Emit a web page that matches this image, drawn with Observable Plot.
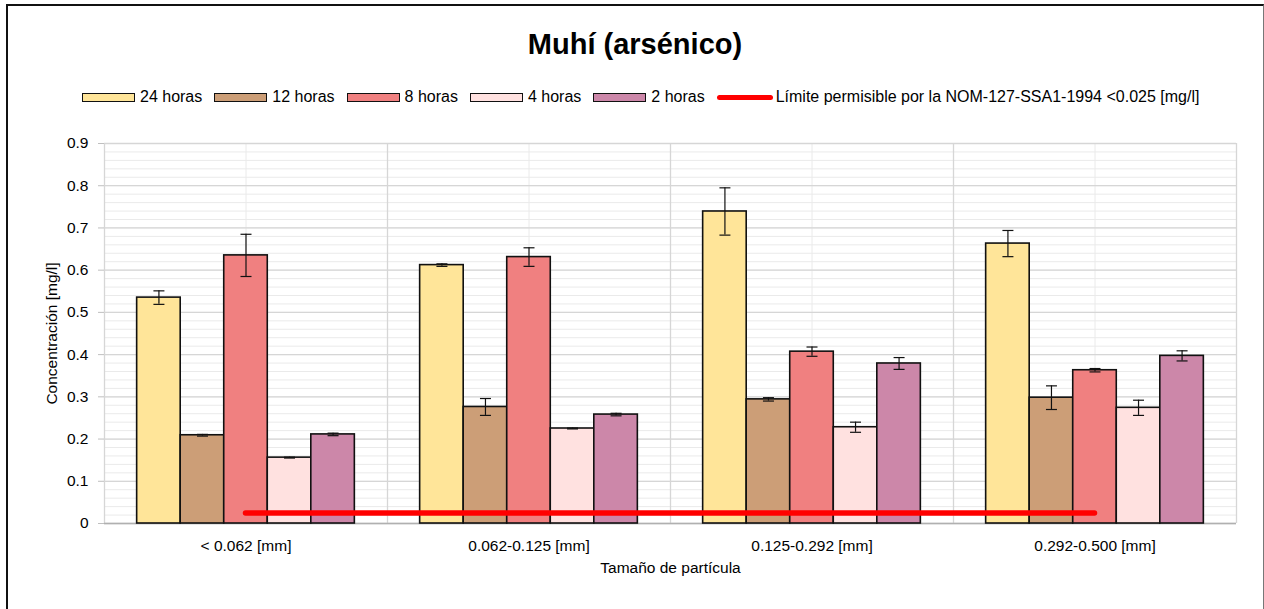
<!DOCTYPE html>
<html>
<head>
<meta charset="utf-8">
<script src="https://cdn.jsdelivr.net/npm/d3@7"></script>
<script src="https://cdn.jsdelivr.net/npm/@observablehq/plot@0.6"></script>
<style>
  html, body { margin: 0; padding: 0; background: #fff; overflow: hidden; }
  body { font-family: "Liberation Sans", Arial, sans-serif; color: #000; }
  #wrap { position: relative; width: 1264px; height: 609px; overflow: hidden; }
  #border { position: absolute; left: 6px; top: 4px; width: 1258px; height: 700px;
            border-left: 2px solid #111; border-top: 2px solid #111; border-right: 1px solid #777; box-sizing: border-box; }
  #title { position: absolute; left: 7px; width: 1256px; top: 28px; line-height: 32px; text-align: center;
           font-weight: bold; font-size: 29px; }
  #legend { position: absolute; top: 87px; left: 82px; height: 20px; display: flex; align-items: center;
            font-size: 16px; white-space: nowrap; }
  .item { display: flex; align-items: center; margin-right: 12px; }
  .sw { width: 53px; height: 9px; box-sizing: border-box; border: 1.5px solid #111; margin-right: 5px; }
  .ln { width: 56px; height: 5px; border-radius: 3px; background: #ff0000; margin-right: 3px; }
  #chart { position: absolute; top: 120px; left: 0; }
</style>
</head>
<body>
<div id="wrap">
  <div id="border"></div>
  <div id="title">Muhí (arsénico)</div>
  <div id="legend"></div>
  <div id="chart"></div>
</div>
<script>
// ---- data ----
const categories = ["< 0.062 [mm]", "0.062-0.125 [mm]", "0.125-0.292 [mm]", "0.292-0.500 [mm]"];
const seriesNames = ["24 horas", "12 horas", "8 horas", "4 horas", "2 horas"];
const seriesColors = ["#FFE599", "#CC9E77", "#F08080", "#FFE1E0", "#CC87A9"];

const h24 = [0.535, 0.612, 0.739, 0.663];
const h12 = [0.209, 0.276, 0.294, 0.298];
const h8  = [0.635, 0.631, 0.407, 0.363];
const h4  = [0.156, 0.225, 0.228, 0.274];
const h2  = [0.211, 0.258, 0.379, 0.397];

const e24 = [0.016, 0.003, 0.056, 0.031];
const e12 = [0.002, 0.020, 0.004, 0.028];
const e8  = [0.050, 0.022, 0.011, 0.004];
const e4  = [0.001, 0.001, 0.012, 0.018];
const e2  = [0.003, 0.003, 0.014, 0.012];

const limitValue = 0.025;
const limitLabel = "Límite permisible por la NOM-127-SSA1-1994 <0.025 [mg/l]";
const yTicks = [0, 0.1, 0.2, 0.3, 0.4, 0.5, 0.6, 0.7, 0.8, 0.9];
const xTitle = "Tamaño de partícula";
const yTitle = "Concentración [mg/l]";

// ---- layout helpers (Excel-style clustered bars, gap width 150%) ----
const values = [h24, h12, h8, h4, h2];
const errors = [e24, e12, e8, e4, e2];
const gap = 1.5;
const nS = seriesNames.length;
const rows = categories.flatMap((c, i) => seriesNames.map((s, j) => ({
  cat: c, series: s, v: values[j][i], e: errors[j][i],
  x1: i + (gap / 2 + j) / (nS + gap),
  x2: i + (gap / 2 + j + 1) / (nS + gap),
  xc: i + (gap / 2 + j + 0.5) / (nS + gap)
})));
const caps = rows.flatMap(d => [{xc: d.xc, y: d.v - d.e}, {xc: d.xc, y: d.v + d.e}]);

const catCenters = categories.map((c, i) => i + 0.5);
const catEdges = d3.range(0, categories.length + 1);
const yMinor = d3.range(0, 0.9001, 0.02);

const capSymbol = {
  draw(ctx, size) {
    const w = Math.sqrt(size / Math.PI);
    ctx.moveTo(-w, 0);
    ctx.lineTo(w, 0);
  }
};

// ---- legend ----
const legend = document.getElementById("legend");
seriesNames.forEach((s, j) => {
  const it = document.createElement("div");
  it.className = "item";
  const sw = document.createElement("div");
  sw.className = "sw";
  sw.style.background = seriesColors[j];
  const t = document.createElement("span");
  t.textContent = s;
  it.appendChild(sw); it.appendChild(t);
  legend.appendChild(it);
});
{
  const it = document.createElement("div");
  it.className = "item";
  const ln = document.createElement("div");
  ln.className = "ln";
  const t = document.createElement("span");
  t.textContent = limitLabel;
  it.appendChild(ln); it.appendChild(t);
  legend.appendChild(it);
}

// ---- chart ----
const chart = Plot.plot({
  width: 1264,
  height: 489,
  marginTop: 23,
  marginBottom: 86,
  marginLeft: 104,
  marginRight: 28,
  style: { fontFamily: "Liberation Sans, Arial, sans-serif", fontSize: "15px", color: "#000", background: "transparent" },
  x: { type: "linear", domain: [0, categories.length] },
  y: { domain: [0, 0.9] },
  color: { domain: seriesNames, range: seriesColors },
  marks: [
    Plot.ruleY(yMinor, { stroke: "#eaeaea", strokeWidth: 1 }),
    Plot.ruleX(catCenters, { stroke: "#eaeaea", strokeWidth: 1 }),
    Plot.ruleY(yTicks, { stroke: "#d6d6d6", strokeWidth: 1.3 }),
    Plot.ruleX(catEdges, { stroke: "#d6d6d6", strokeWidth: 1.3 }),
    Plot.ruleY([0], { stroke: "#b0b0b0", strokeWidth: 1.3 }),
    Plot.rectY(rows, { x1: "x1", x2: "x2", y1: 0, y2: "v", fill: "series", stroke: "#111", strokeWidth: 1.6 }),
    Plot.ruleX(rows, { x: "xc", y1: d => d.v - d.e, y2: d => d.v + d.e, stroke: "#111", strokeWidth: 1.2 }),
    Plot.dot(caps, { x: "xc", y: "y", r: 5.5, symbol: capSymbol, stroke: "#111", strokeWidth: 1.2, fill: "none" }),
    Plot.ruleY([limitValue], { x1: catCenters[0], x2: catCenters[catCenters.length - 1], stroke: "#ff0000", strokeWidth: 5.5, strokeLinecap: "round" }),
    Plot.axisY({ ticks: yTicks, tickFormat: d => d === 0 ? "0" : d.toFixed(1), tickSize: 6, tickPadding: 10, stroke: "#bfbfbf",
                 label: yTitle, labelAnchor: "center", labelOffset: 59, labelArrow: "none", fontSize: 15.5 }),
    Plot.axisX({ ticks: catCenters, tickFormat: d => categories[Math.floor(d)], tickSize: 0, tickPadding: 16,
                 label: xTitle, labelAnchor: "center", labelOffset: 49, labelArrow: "none", fontSize: 15.5 })
  ]
});
document.getElementById("chart").appendChild(chart);
</script>
</body>
</html>
